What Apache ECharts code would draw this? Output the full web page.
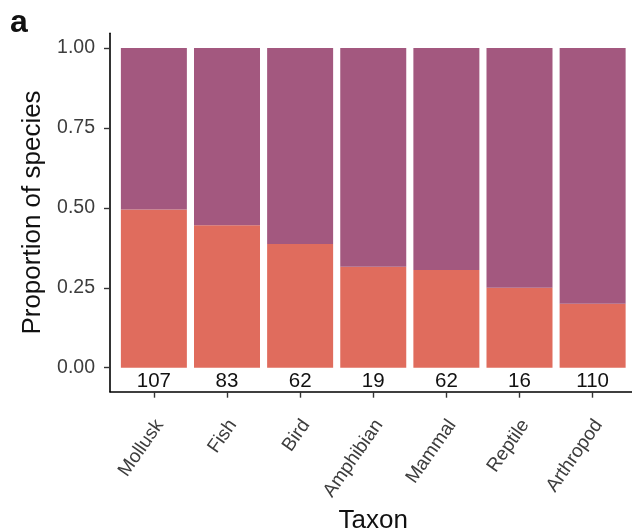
<!DOCTYPE html>
<html>
<head>
<meta charset="utf-8">
<script src="https://cdn.jsdelivr.net/npm/echarts@6/dist/echarts.min.js"></script>
<style>
  html, body { margin: 0; padding: 0; background: #fff; }
  #chart { width: 632px; height: 531px; }
</style>
</head>
<body>
<div id="chart"></div>
<script>
// Taxa along the x axis
const taxa = ['Mollusk', 'Fish', 'Bird', 'Amphibian', 'Mammal', 'Reptile', 'Arthropod'];
// Species counts per taxon (printed under each bar)
const totals = [107, 83, 62, 19, 62, 16, 110];
// Lower (orange) share of species per taxon
const lowerShare = [0.495, 0.446, 0.387, 0.316, 0.306, 0.25, 0.2];
// Upper (purple) share of species per taxon
const upperShare = [0.505, 0.554, 0.613, 0.684, 0.694, 0.75, 0.8];
// Y axis tick values
const yTicks = [0, 0.25, 0.5, 0.75, 1];

const FONT = 'Liberation Sans, Arial, Helvetica, sans-serif';
const positions = taxa.map((_, i) => i + 1);
// rotated labels hang slightly right of their tick
const labelPositions = positions.map((p) => p + 0.08);

const chart = echarts.init(document.getElementById('chart'), null, { renderer: 'canvas' });

// value first, position second, so the stack runs along y
const toData = (vals) => vals.map((v, i) => [v, positions[i]]);

chart.setOption({
  animation: false,
  backgroundColor: '#ffffff',
  title: {
    text: 'a',
    left: 5,
    top: 2,
    textStyle: { fontFamily: FONT, fontSize: 32, fontWeight: 'bold', color: '#111' }
  },
  grid: {
    left: 110, top: 33.3, width: 526.5, height: 358.4,
    containLabel: false, outerBoundsMode: 'none'
  },
  xAxis: {
    type: 'value',
    min: 0.4,
    max: 7.6,
    name: 'Taxon',
    nameLocation: 'middle',
    nameGap: 115,
    nameTextStyle: { fontFamily: FONT, fontSize: 26, color: '#111' },
    splitLine: { show: false },
    axisLine: { show: true, onZero: false, lineStyle: { color: '#000', width: 1.6 } },
    axisTick: {
      show: true, length: 6, customValues: positions,
      lineStyle: { color: '#333', width: 1.4 }
    },
    axisLabel: {
      customValues: labelPositions,
      rotate: 55,
      margin: 30,
      fontFamily: FONT,
      fontSize: 19,
      color: '#3d3d3d',
      formatter: (v) => taxa[Math.round(v) - 1]
    }
  },
  yAxis: {
    type: 'value',
    min: -0.075,
    max: 1.046,
    name: 'Proportion of species',
    nameLocation: 'middle',
    nameGap: 60,
    nameTextStyle: { fontFamily: FONT, fontSize: 26, color: '#111' },
    splitLine: { show: false },
    axisLine: { show: true, lineStyle: { color: '#000', width: 1.6 } },
    axisTick: {
      show: true, length: 6, customValues: yTicks,
      lineStyle: { color: '#333', width: 1.4 }
    },
    axisLabel: {
      customValues: yTicks,
      margin: 15,
      fontFamily: FONT,
      fontSize: 19.5,
      color: '#3d3d3d',
      formatter: (v) => v.toFixed(2)
    }
  },
  series: [
    {
      name: 'lower',
      type: 'bar',
      stack: 'share',
      barWidth: 66,
      encode: { x: 1, y: 0 },
      itemStyle: { color: '#e06c5d' },
      data: toData(lowerShare),
      label: {
        show: true,
        position: 'bottom',
        distance: 3,
        fontFamily: FONT,
        fontSize: 20.5,
        color: '#111',
        formatter: (p) => String(totals[p.dataIndex])
      }
    },
    {
      name: 'upper',
      type: 'bar',
      stack: 'share',
      barWidth: 66,
      encode: { x: 1, y: 0 },
      itemStyle: { color: '#a3587f' },
      data: toData(upperShare)
    }
  ]
});
</script>
</body>
</html>
